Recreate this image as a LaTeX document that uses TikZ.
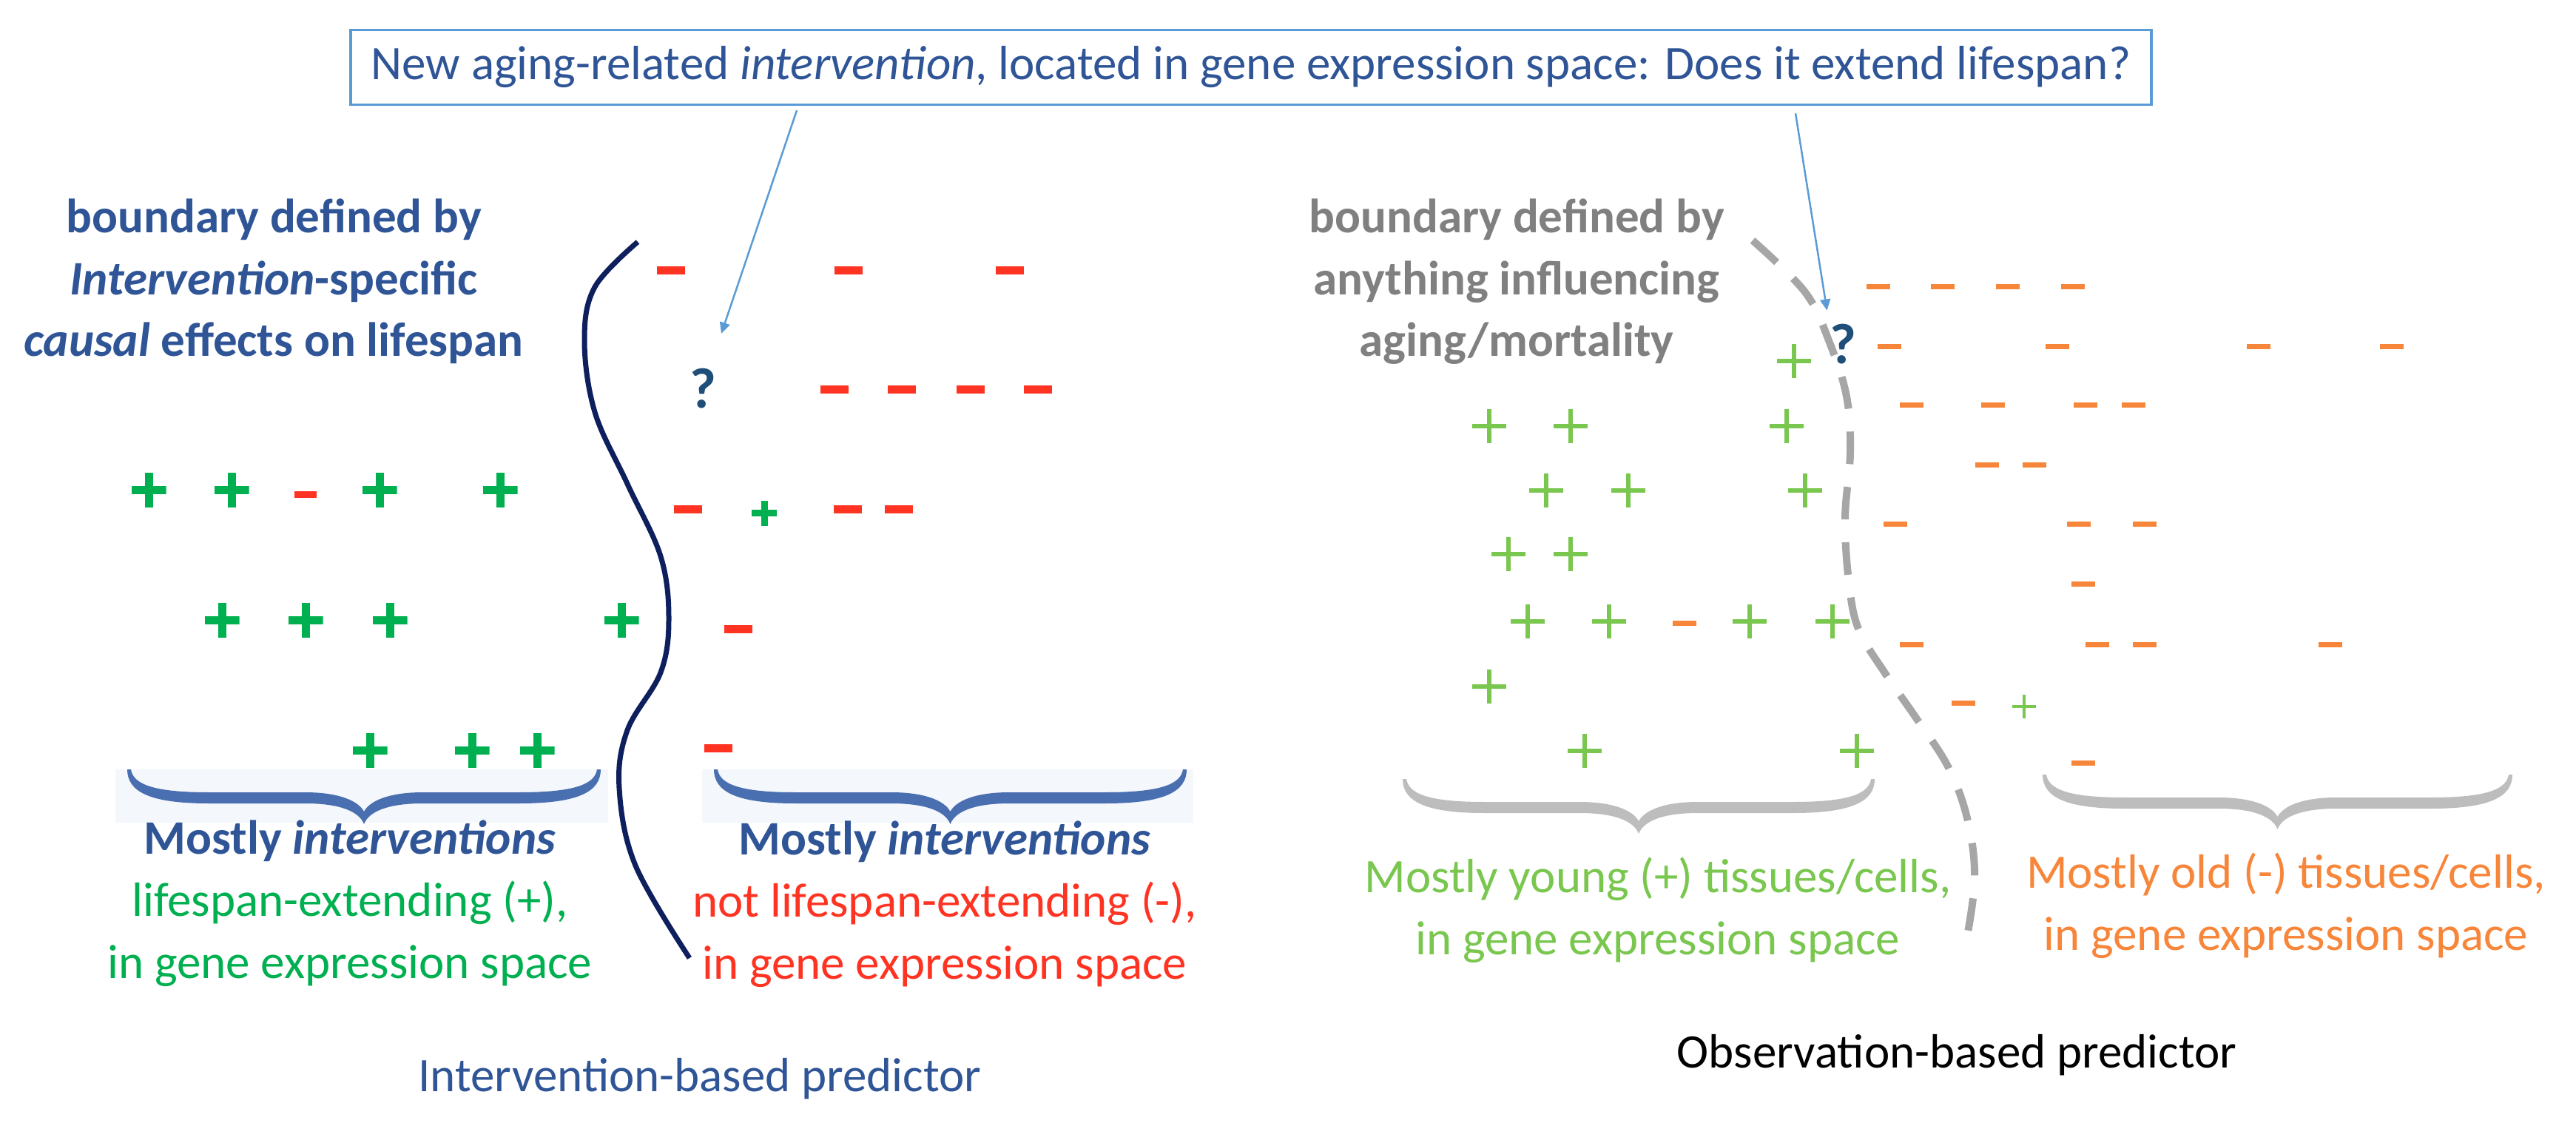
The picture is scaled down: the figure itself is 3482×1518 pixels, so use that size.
\documentclass[tikz,border=0pt]{standalone}
\usepackage{fontspec}
\setmainfont{Carlito}
\usetikzlibrary{arrows.meta}

\definecolor{capblue}{HTML}{2F5597}
\definecolor{boxblue}{HTML}{5B9BD5}
\definecolor{qblue}{HTML}{1F4E79}
\definecolor{navyline}{HTML}{0E1F5E}
\definecolor{posgreen}{HTML}{00B050}
\definecolor{negred}{HTML}{FF3322}
\definecolor{younggreen}{HTML}{7AC74F}
\definecolor{oldorange}{HTML}{F7863A}
\definecolor{bndgray}{HTML}{808080}
\definecolor{dashgray}{HTML}{A6A6A6}
\definecolor{bracegray}{HTML}{BDBDBD}
\definecolor{braceblue}{HTML}{4A6FB0}
\definecolor{bracebg}{HTML}{F4F7FC}

% left x, right x, top y, colour
\newcommand{\curlybrace}[4]{%
  \pgfmathsetmacro\bmid{(#1+#2)/2}
  \fill[#4] (#1,#3) .. controls (#1,#3+30) and (#1+30,#3+46) .. (#1+110,#3+46)
    -- (\bmid-80,#3+46) .. controls (\bmid-30,#3+46) and (\bmid-6,#3+58) .. (\bmid,#3+74)
    .. controls (\bmid+6,#3+58) and (\bmid+30,#3+46) .. (\bmid+80,#3+46)
    -- (#2-110,#3+46) .. controls (#2-30,#3+46) and (#2,#3+30) .. (#2,#3)
    -- (#2-5,#3) .. controls (#2-8,#3+20) and (#2-35,#3+31) .. (#2-110,#3+31)
    -- (\bmid+80,#3+31) .. controls (\bmid+35,#3+31) and (\bmid+8,#3+42) .. (\bmid,#3+57)
    .. controls (\bmid-8,#3+42) and (\bmid-35,#3+31) .. (\bmid-80,#3+31)
    -- (#1+110,#3+31) .. controls (#1+35,#3+31) and (#1+8,#3+20) .. (#1+5,#3) -- cycle;
}

\tikzset{
  txt/.style={font=\fontsize{18.5pt}{23.8pt}\selectfont, align=center, inner sep=0pt, anchor=base},
  qmark/.style={font=\fontsize{22pt}{22pt}\selectfont\bfseries, text=qblue, inner sep=0pt},
  pointer/.style={draw=boxblue, line width=0.25mm, -{Triangle[length=1.5mm,width=1.4mm]}},
  plusmark/.style n args={3}{minimum size=#1, inner sep=0pt, path picture={
      \draw[#3, line width=#2] (path picture bounding box.north) -- (path picture bounding box.south)
        (path picture bounding box.west) -- (path picture bounding box.east);}},
  minusmark/.style n args={3}{fill=#3, minimum width=#1, minimum height=#2, inner sep=0pt},
  bigplus/.style={plusmark={4.7mm}{1.1mm}{posgreen}},
  smallplus/.style={plusmark={3.4mm}{0.9mm}{posgreen}},
  bigminus/.style={minusmark={3.8mm}{1.1mm}{negred}},
  smallminus/.style={minusmark={3.0mm}{0.9mm}{negred}},
  youngplus/.style={plusmark={4.6mm}{0.6mm}{younggreen}},
  tinyplus/.style={plusmark={3.2mm}{0.45mm}{younggreen}},
  oldminus/.style={minusmark={3.2mm}{0.7mm}{oldorange}},
}

\begin{document}
\begin{tikzpicture}[x=0.1mm, y=-0.1mm]
  \useasboundingbox (0,0) rectangle (3482,1518);

  % question box
  \node[draw=boxblue, line width=0.35mm, minimum width=243.4mm, minimum height=10.1mm, inner sep=0pt,
        font=\fontsize{18.5pt}{23.8pt}\selectfont, text=capblue] (askbox) at (1691,91)
        {New aging-related \textit{intervention}, located in gene expression space: Does it extend lifespan?};

  % boundaries
  \draw[navyline, line width=0.7mm] plot[smooth, tension=0.6] coordinates
    {(862,327) (804,388) (790,460) (804,557) (848,654) (893,752) (904,836) (893,909) (848,987) (837,1065) (859,1170) (932,1295)};
  \draw[dashgray, line width=1mm, dash pattern=on 4.4mm off 3.1mm] plot[smooth, tension=0.6] coordinates
    {(2369,325) (2440,395) (2473,463) (2496,536) (2501,611) (2494,700) (2499,786) (2512,850) (2548,910) (2591,972) (2634,1038) (2660,1110) (2669,1190) (2656,1282)};

  % braces
  \fill[bracebg] (156,1040) rectangle (822,1112);
  \fill[bracebg] (949,1040) rectangle (1613,1112);
  \curlybrace{172}{812}{1040}{braceblue}
  \curlybrace{965}{1604}{1040}{braceblue}
  \curlybrace{1896}{2534}{1053}{bracegray}
  \curlybrace{2761}{3396}{1047}{bracegray}

  % intervention-based side
  \foreach \x/\y [count=\i] in {201/663, 313/663, 513/663, 676/663, 300/838, 413/838, 527/838, 840/838,
      500/1014, 638/1014, 726/1014}
    \node[bigplus] (gp\i) at (\x,\y) {};
  \foreach \x/\y [count=\i] in {907/366, 1147/366, 1365/366, 1128/527, 1219/527, 1312/527, 1403/527,
      930/689, 1146/689, 1215/689, 998/850, 971/1011}
    \node[bigminus] (rm\i) at (\x,\y) {};
  \node[smallminus] (rm0) at (413,669) {};
  \node[smallplus] (gp0) at (1033,694) {};
  \node[qmark] (q1) at (950,525) {?};

  % observation-based side
  \foreach \x/\y [count=\i] in {2425/488, 2013/576, 2123/576, 2415/576, 2090/663, 2201/663, 2440/663,
      2039/749, 2123/749, 2065/840, 2175/840, 2365/840, 2477/840, 2013/928, 2142/1015, 2510/1015}
    \node[youngplus] (yp\i) at (\x,\y) {};
  \foreach \x/\y [count=\i] in {2539/388, 2626/388, 2714/388, 2802/388, 2554/469, 2781/469, 3053/469, 3233/469,
      2584/548, 2694/548, 2819/548, 2884/548, 2686/629, 2750/629, 2562/709, 2810/709, 2899/709,
      2816/790, 2277/842, 2584/871, 2835/871, 2899/871, 3150/871, 2654/950, 2816/1031}
    \node[oldminus] (om\i) at (\x,\y) {};
  \node[tinyplus] (yp0) at (2736,955) {};
  \node[qmark] (q2) at (2491,465) {?};

  % labels (base = last line)
  \node[txt, text=capblue, font=\fontsize{18.5pt}{23.8pt}\selectfont\bfseries] (bndL) at (370,482)
    {boundary defined by\\ \textit{Intervention}-specific\\ \textit{causal} effects on lifespan};
  \node[txt, text=bndgray, font=\fontsize{18.5pt}{23.8pt}\selectfont\bfseries] (bndR) at (2050,482)
    {boundary defined by\\ anything influencing\\ aging/mortality};
  \node[txt, text=posgreen] (posL) at (473,1322)
    {{\bfseries\color{capblue}Mostly \textit{interventions}}\\ lifespan-extending (+),\\ in gene expression space};
  \node[txt, text=negred] (negL) at (1277,1323)
    {{\bfseries\color{capblue}Mostly \textit{interventions}}\\ not lifespan-extending (-),\\ in gene expression space};
  \node[txt, text=younggreen] (posR) at (2241,1290) {Mostly young (+) tissues/cells,\\ in gene expression space};
  \node[txt, text=oldorange] (negR) at (3090,1284) {Mostly old (-) tissues/cells,\\ in gene expression space};
  \node[txt, text=capblue] (capL) at (946,1475) {Intervention-based predictor};
  \node[txt, text=black] (capR) at (2645,1443) {Observation-based predictor};

  % pointers
  \draw[pointer, shorten >=4.9mm] ([xshift=-61.4mm, yshift=-0.6mm]askbox.south) -- (q1);
  \draw[pointer, shorten >=1.8mm] ([xshift=73.6mm, yshift=-1mm]askbox.south) -- (q2.north west);
\end{tikzpicture}
\end{document}
